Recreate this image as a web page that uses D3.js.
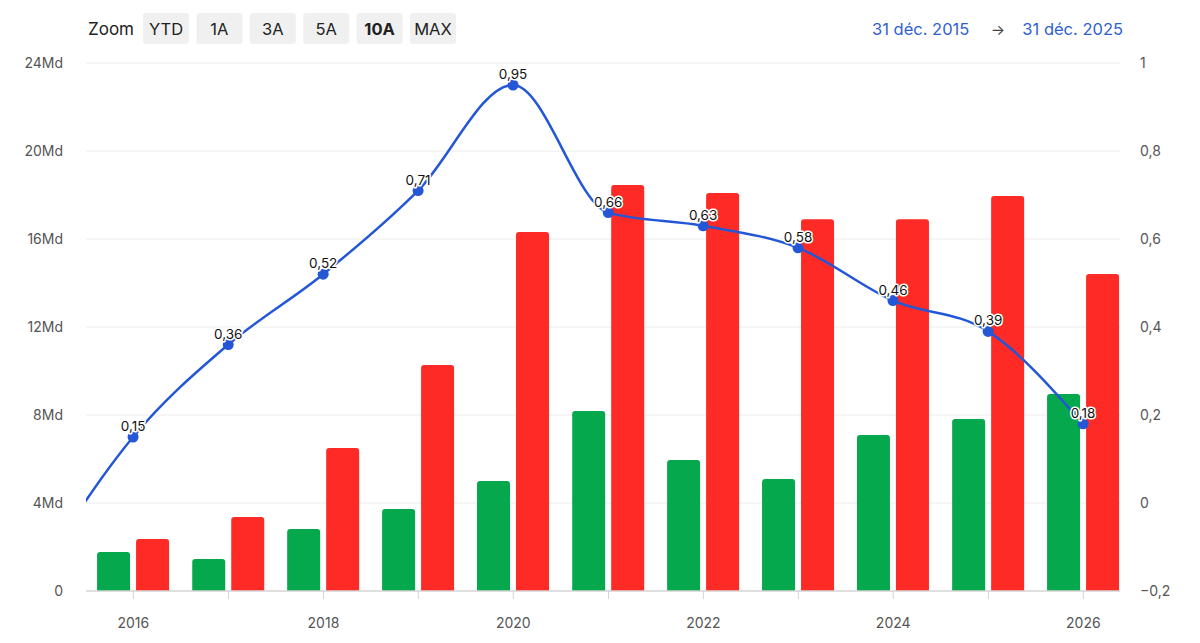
<!DOCTYPE html>
<html>
<head>
<meta charset="utf-8">
<script src="https://cdn.jsdelivr.net/npm/d3@7"></script>
<style>
  body { margin: 0; background: #fff; font-family: Inter, "Noto Sans", sans-serif; }
  #chart svg { display: block; }
</style>
</head>
<body>
<div id="chart"></div>
<script>
// period ends (31 dec of each year)
const dates = ["2015-12-31", "2016-12-31", "2017-12-31", "2018-12-31", "2019-12-31", "2020-12-31",
               "2021-12-31", "2022-12-31", "2023-12-31", "2024-12-31", "2025-12-31"];
const greenValues = [1.77, 1.45, 2.82, 3.73, 5.0, 8.18, 5.95, 5.09, 7.09, 7.82, 8.95]; // Md
const redValues = [2.36, 3.36, 6.5, 10.27, 16.32, 18.45, 18.09, 16.9, 16.9, 17.95, 14.41]; // Md
const ratioValues = [0.15, 0.36, 0.52, 0.71, 0.95, 0.66, 0.63, 0.58, 0.46, 0.39, 0.18];
// previous period, only partly visible on the left edge
const prevDate = "2014-12-31";
const prevRatio = -0.16;

const leftTicks = [0, 4, 8, 12, 16, 20, 24];
const rightTicks = [-0.2, 0, 0.2, 0.4, 0.6, 0.8, 1];
const xTickYears = [2016, 2018, 2020, 2022, 2024, 2026];
const zoomButtons = ["YTD", "1A", "3A", "5A", "10A", "MAX"];

const width = 1200;
const height = 643;
const margin = { top: 63, right: 80, bottom: 52, left: 86 };

const parse = d3.timeParse("%Y-%m-%d");
const frNum = v => String(v).replace(".", ",");

const svg = d3
  .select("#chart")
  .append("svg")
  .attr("width", width)
  .attr("height", height)
  .attr("viewBox", [0, 0, width, height])
  .style("font-family", "Inter, 'Noto Sans', sans-serif");

const x = d3
  .scaleTime()
  .domain([parse("2015-07-03"), parse("2026-05-22")])
  .range([margin.left, width - margin.right]);

const yLeft = d3
  .scaleLinear()
  .domain([0, 24])
  .range([height - margin.bottom, margin.top]);

const yRight = d3
  .scaleLinear()
  .domain([-0.2, 1])
  .range([height - margin.bottom, margin.top]);

// toolbar
svg.append("text")
  .attr("x", 88)
  .attr("y", 35)
  .attr("font-size", 17)
  .attr("fill", "#222")
  .text("Zoom");

const btn = svg.selectAll(".zoom-btn")
  .data(zoomButtons)
  .join("g")
  .attr("class", "zoom-btn")
  .attr("transform", (d, i) => `translate(${143 + i * 53.4}, 13)`);

btn.append("rect")
  .attr("width", 46)
  .attr("height", 31)
  .attr("rx", 3)
  .attr("fill", "#f0f0f0");

btn.append("text")
  .attr("x", 23)
  .attr("y", 22)
  .attr("text-anchor", "middle")
  .attr("font-size", 16.5)
  .attr("font-weight", d => d === "10A" ? 700 : 400)
  .attr("fill", "#222")
  .text(d => d);

svg.append("text")
  .attr("x", 872)
  .attr("y", 35)
  .attr("font-size", 16.5)
  .attr("fill", "#2f5fcf")
  .text("31 déc. 2015");

svg.append("text")
  .attr("x", 998)
  .attr("y", 35)
  .attr("text-anchor", "middle")
  .attr("font-size", 15)
  .attr("fill", "#444")
  .text("→");

svg.append("text")
  .attr("x", 1123)
  .attr("y", 35)
  .attr("text-anchor", "end")
  .attr("font-size", 16.5)
  .attr("fill", "#2f5fcf")
  .text("31 déc. 2025");

// gridlines
svg.append("g")
  .selectAll("line")
  .data(leftTicks.slice(1))
  .join("line")
  .attr("x1", margin.left)
  .attr("x2", width - margin.right)
  .attr("y1", d => yLeft(d))
  .attr("y2", d => yLeft(d))
  .attr("stroke", "#ececec")
  .attr("stroke-width", 1);

// left axis labels
svg.append("g")
  .selectAll("text")
  .data(leftTicks)
  .join("text")
  .attr("x", 63)
  .attr("y", d => yLeft(d) + 5)
  .attr("text-anchor", "end")
  .attr("font-size", 14)
  .attr("fill", "#555")
  .text(d => d === 0 ? "0" : d + "Md");

// right axis labels
svg.append("g")
  .selectAll("text")
  .data(rightTicks)
  .join("text")
  .attr("x", 1140)
  .attr("y", d => yRight(d) + 5)
  .attr("font-size", 14)
  .attr("fill", "#555")
  .text(d => frNum(d3.format("~g")(d)));

// bars
const barW = 33;
const gap = 6;
const barData = dates.map((d, i) => ({
  date: parse(d),
  green: greenValues[i],
  red: redValues[i]
}));

function topRoundedBar(x0, y0, w, h, r) {
  r = Math.min(r, h, w / 2);
  return `M${x0},${y0 + h}V${y0 + r}Q${x0},${y0} ${x0 + r},${y0}H${x0 + w - r}Q${x0 + w},${y0} ${x0 + w},${y0 + r}V${y0 + h}Z`;
}

svg.append("g")
  .selectAll("path")
  .data(barData)
  .join("path")
  .attr("fill", "#05a84c")
  .attr("d", d => {
    const cx = x(d.date);
    const top = yLeft(d.green);
    return topRoundedBar(cx - gap / 2 - barW, top, barW, yLeft(0) - top, 3);
  });

svg.append("g")
  .selectAll("path")
  .data(barData)
  .join("path")
  .attr("fill", "#fd2a26")
  .attr("d", d => {
    const cx = x(d.date);
    const top = yLeft(d.red);
    return topRoundedBar(cx + gap / 2, top, barW, yLeft(0) - top, 3);
  });

// x axis
const xAxisY = yLeft(0);
svg.append("line")
  .attr("x1", margin.left)
  .attr("x2", width - margin.right)
  .attr("y1", xAxisY)
  .attr("y2", xAxisY)
  .attr("stroke", "#d4d4d4")
  .attr("stroke-width", 1.5);

const yearTicks = d3.timeYear.range(parse("2016-01-01"), parse("2026-06-01"));
svg.append("g")
  .selectAll("line")
  .data(yearTicks)
  .join("line")
  .attr("x1", d => x(d))
  .attr("x2", d => x(d))
  .attr("y1", xAxisY)
  .attr("y2", xAxisY + 8)
  .attr("stroke", "#d4d4d4");

svg.append("g")
  .selectAll("text")
  .data(xTickYears)
  .join("text")
  .attr("x", d => x(new Date(d, 0, 1)))
  .attr("y", 628)
  .attr("text-anchor", "middle")
  .attr("font-size", 14)
  .attr("fill", "#555")
  .text(d => d);

// ratio line
svg.append("clipPath")
  .attr("id", "plot-clip")
  .append("rect")
  .attr("x", margin.left)
  .attr("y", 0)
  .attr("width", width - margin.right - margin.left + 20)
  .attr("height", height);

const lineData = [{ date: parse(prevDate), v: prevRatio }].concat(
  dates.map((d, i) => ({ date: parse(d), v: ratioValues[i] }))
);

const line = d3.line()
  .x(d => x(d.date))
  .y(d => yRight(d.v))
  .curve(d3.curveMonotoneX);

svg.append("path")
  .datum(lineData)
  .attr("clip-path", "url(#plot-clip)")
  .attr("fill", "none")
  .attr("stroke", "#2457d5")
  .attr("stroke-width", 2.5)
  .attr("d", line);

const points = lineData.slice(1);

svg.append("g")
  .selectAll("circle")
  .data(points)
  .join("circle")
  .attr("cx", d => x(d.date))
  .attr("cy", d => yRight(d.v))
  .attr("r", 5.5)
  .attr("fill", "#2457d5");

svg.append("g")
  .selectAll("text")
  .data(points)
  .join("text")
  .attr("x", d => x(d.date))
  .attr("y", d => yRight(d.v) - 6)
  .attr("text-anchor", "middle")
  .attr("font-size", 13.5)
  .attr("fill", "#111")
  .attr("stroke", "#fff")
  .attr("stroke-width", 3)
  .attr("stroke-linejoin", "round")
  .attr("paint-order", "stroke")
  .text(d => frNum(d.v));
</script>
</body>
</html>
